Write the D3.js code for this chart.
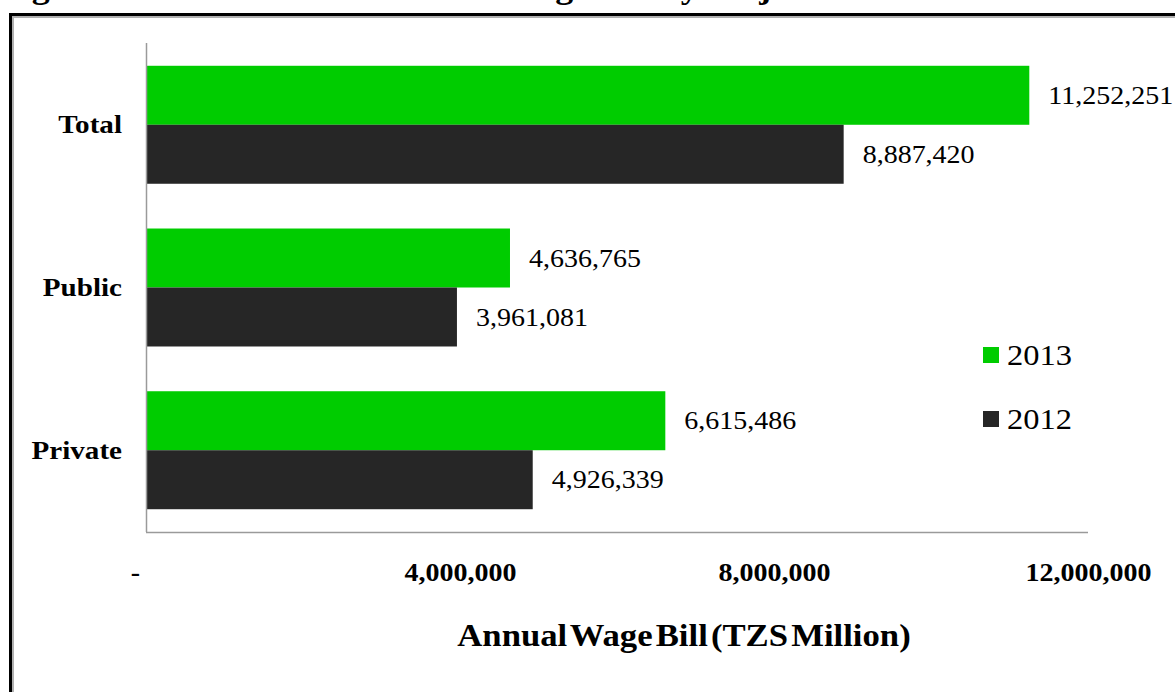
<!DOCTYPE html>
<html>
<head>
<meta charset="utf-8">
<script src="https://cdn.jsdelivr.net/npm/d3@7"></script>
<style>
  html, body { margin: 0; padding: 0; background: #fff; }
  svg { display: block; font-family: "Liberation Serif", "Times New Roman", serif; }
</style>
</head>
<body>
<svg id="chart" width="1175" height="692"></svg>
<script>
// Annual wage bill by major sector (TZS Million)
const categories = ["Total", "Public", "Private"];
const years = ["2013", "2012"];
const values2013 = [11252251, 4636765, 6615486];
const values2012 = [8887420, 3961081, 4926339];
const tickValues = [0, 4000000, 8000000, 12000000];
const tickLabels = ["-", "4,000,000", "8,000,000", "12,000,000"];
const colors = { "2013": "#00cc00", "2012": "#262626" };

// Text in this figure is set slightly wide
const STRETCH = 1.12;
function widen(sel) {
  sel.attr("transform", function () {
    const ax = +this.getAttribute("x") || 0;
    return `translate(${ax},0) scale(${STRETCH},1) translate(${-ax},0)`;
  });
}

const svg = d3.select("#chart");

// Figure caption (mostly above the visible area)
svg.append("text")
  .attr("x", 0).attr("y", -2)
  .attr("font-size", 32).attr("font-weight", "bold")
  .attr("fill", "#000")
  .text("Figure 6: Distribution of Annual Wage Bill by Major Sector 2013")
  .call(widen);

// Outer frame
svg.append("rect")
  .attr("x", 10.5).attr("y", 14.5).attr("width", 1200).attr("height", 700)
  .attr("fill", "none").attr("stroke", "#000").attr("stroke-width", 3);
svg.append("rect")
  .attr("x", 13).attr("y", 17).attr("width", 1200).attr("height", 700)
  .attr("fill", "none").attr("stroke", "#b0b0b0").attr("stroke-width", 2);

const plot = { left: 146, right: 1088, top: 43, bottom: 532 };

const x = d3.scaleLinear().domain([0, 12000000]).range([plot.left, plot.right]);
const y = d3.scaleBand().domain(categories).range([plot.top, plot.bottom])
  .paddingInner(0.275).paddingOuter(0.14);
const ySub = d3.scaleBand().domain(years).range([0, y.bandwidth()]);

const rows = categories.map((c, i) => ({
  category: c,
  items: [
    { year: "2013", value: values2013[i] },
    { year: "2012", value: values2012[i] }
  ]
}));

const groups = svg.append("g").selectAll("g")
  .data(rows).join("g")
  .attr("transform", d => `translate(0,${y(d.category)})`);

groups.selectAll("rect")
  .data(d => d.items).join("rect")
  .attr("x", x(0))
  .attr("y", d => ySub(d.year))
  .attr("width", d => x(d.value) - x(0))
  .attr("height", ySub.bandwidth())
  .attr("fill", d => colors[d.year]);

// Value labels
const fmt = d3.format(",");
groups.selectAll("text.val")
  .data(d => d.items).join("text")
  .attr("class", "val")
  .attr("x", d => x(d.value) + 19)
  .attr("y", d => ySub(d.year) + ySub.bandwidth() / 2)
  .attr("dy", "0.35em")
  .attr("font-size", 25)
  .attr("fill", "#000")
  .text(d => fmt(d.value))
  .call(widen);

// Axis lines
svg.append("line")
  .attr("x1", plot.left + 0.5).attr("x2", plot.left + 0.5)
  .attr("y1", plot.top).attr("y2", plot.bottom)
  .attr("stroke", "#9a9a9a").attr("stroke-width", 1.5);
svg.append("line")
  .attr("x1", plot.left).attr("x2", plot.right)
  .attr("y1", plot.bottom + 0.5).attr("y2", plot.bottom + 0.5)
  .attr("stroke", "#9a9a9a").attr("stroke-width", 1.5);

// X tick labels
const xAxis = d3.axisBottom(x).tickValues(tickValues)
  .tickFormat((d, i) => tickLabels[i]).tickSize(0).tickPadding(0);
const gx = svg.append("g")
  .attr("transform", `translate(0,${plot.bottom + 40})`)
  .call(xAxis);
gx.select(".domain").remove();
gx.selectAll("text")
  .attr("font-family", "Liberation Serif, serif")
  .attr("font-size", 25).attr("font-weight", "bold").attr("fill", "#000")
  .attr("dy", "0.35em")
  .attr("x", (d, i) => i === 0 ? -11 : 0)
  .call(widen);

// Category labels
const yAxis = d3.axisLeft(y).tickSize(0).tickPadding(24);
const gy = svg.append("g").attr("transform", `translate(${plot.left},0)`).call(yAxis);
gy.select(".domain").remove();
gy.selectAll("text")
  .attr("font-family", "Liberation Serif, serif")
  .attr("font-size", 26).attr("font-weight", "bold").attr("fill", "#000")
  .call(widen);

// Axis title
svg.append("text")
  .attr("x", 684).attr("y", 646)
  .attr("text-anchor", "middle")
  .attr("font-size", 31).attr("font-weight", "bold")
  .attr("word-spacing", -5)
  .text("Annual Wage Bill (TZS Million)")
  .call(widen);

// Legend
const legend = svg.append("g").selectAll("g")
  .data(years).join("g")
  .attr("transform", (d, i) => `translate(983,${347 + i * 64})`);
legend.append("rect")
  .attr("width", 16).attr("height", 16)
  .attr("fill", d => colors[d]);
legend.append("text")
  .attr("x", 24).attr("y", 8).attr("dy", "0.35em")
  .attr("font-size", 29).attr("fill", "#000")
  .text(d => d)
  .call(widen);
</script>
</body>
</html>
